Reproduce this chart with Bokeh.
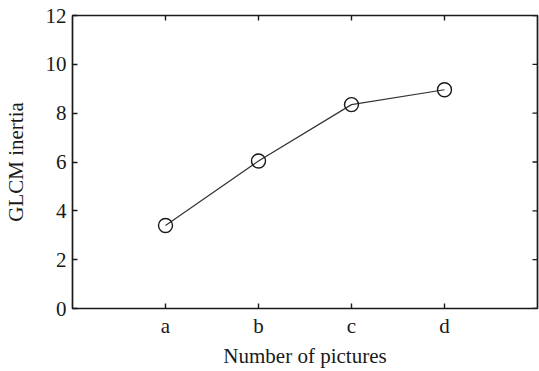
import math
from bokeh.plotting import figure
from bokeh.models import FixedTicker, LinearAxis, Range1d
from bokeh.embed import file_html
from bokeh.resources import INLINE

# GLCM inertia for each picture
categories = ["a", "b", "c", "d"]
inertia = [3.40, 6.04, 8.35, 8.96]
y_ticks = [0, 2, 4, 6, 8, 10, 12]

xs = list(range(1, len(categories) + 1))
label_map = {i: c for i, c in zip(xs, categories)}

FONT = "Liberation Serif"
INK = "#1a1a1a"

x_end = len(categories) + 1
y_end = y_ticks[-1]

p = figure(frame_width=465, frame_height=293, output_backend="svg",
           toolbar_location=None,
           x_range=Range1d(0, x_end), y_range=Range1d(0, y_end),
           min_border_left=72, min_border_right=2, min_border_top=15,
           min_border_bottom=63, x_axis_location=None, y_axis_location=None)
p.grid.visible = False
p.outline_line_color = INK
p.outline_line_width = 1.7
p.background_fill_color = "white"
p.border_fill_color = "white"


def style_axis(ax):
    ax.axis_line_color = None
    ax.major_tick_in = 5
    ax.major_tick_out = 0
    ax.minor_tick_line_color = None
    ax.major_tick_line_color = INK
    ax.major_tick_line_width = 1.4
    ax.major_label_text_font = FONT
    ax.major_label_text_font_size = "21px"
    ax.major_label_text_color = INK
    ax.axis_label_text_font = FONT
    ax.axis_label_text_font_size = "21px"
    ax.axis_label_text_font_style = "normal"
    ax.axis_label_text_color = INK


xb = LinearAxis(ticker=FixedTicker(ticks=xs), major_label_overrides=label_map,
                axis_label="Number of pictures")
style_axis(xb)
xb.major_label_standoff = 5
xb.axis_label_standoff = 3
p.add_layout(xb, "below")

yl = LinearAxis(ticker=FixedTicker(ticks=y_ticks), axis_label="GLCM inertia")
style_axis(yl)
yl.major_label_standoff = 6
yl.axis_label_standoff = 15
p.add_layout(yl, "left")

# inward ticks on the top and right edges of the box (half of each dash is clipped)
p.scatter([x_end] * len(y_ticks), y_ticks, marker="dash", size=10,
          line_color=INK, line_width=1.4)
p.scatter(xs, [y_end] * len(xs), marker="dash", size=10, angle=math.pi / 2,
          line_color=INK, line_width=1.4)

p.line(xs, inertia, line_color="#333333", line_width=1.2)
p.scatter(xs, inertia, marker="circle", size=14, fill_color=None,
          line_color=INK, line_width=1.4)

open("out.html", "w").write(file_html(p, INLINE))
